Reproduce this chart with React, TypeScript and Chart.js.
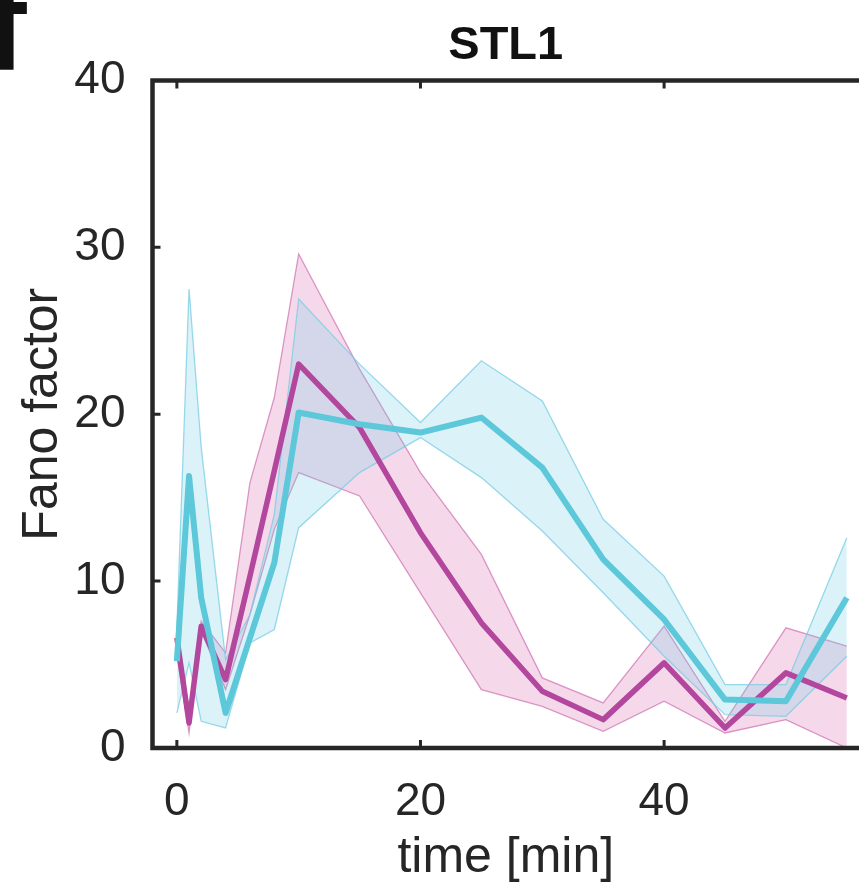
import React, { useEffect, useRef } from "react";
import { Chart, registerables } from "chart.js";

Chart.register(...registerables);

// ---- data ----
const timeMin = [0, 1, 2, 4, 6, 8, 10, 15, 20, 25, 30, 35, 40, 45, 50, 55];

const magentaMean = [6.6, 1.5, 7.3, 4.1, 10.3, 16.6, 23.0, 19.2, 12.9, 7.5, 3.4, 1.7, 5.1, 1.2, 4.5, 3.0];
const magentaUpper = [7.2, 2.2, 7.6, 5.7, 15.9, 21.0, 29.6, 22.7, 16.5, 11.6, 4.2, 2.7, 7.3, 1.6, 7.2, 6.1];
const magentaLower = [5.6, 0.9, 7.0, 3.5, 8.0, 13.1, 16.5, 15.1, 9.3, 3.5, 2.5, 1.0, 2.8, 0.9, 1.7, 0.0];

const cyanMean = [5.2, 16.3, 9.0, 2.1, 6.6, 11.1, 20.1, 19.4, 18.9, 19.8, 16.8, 11.3, 7.7, 2.9, 2.8, 9.0];
const cyanUpper = [7.2, 27.5, 18.0, 5.3, 8.0, 14.0, 26.9, 23.0, 19.5, 23.2, 20.8, 13.7, 10.3, 3.8, 3.8, 12.6];
const cyanLower = [2.1, 5.1, 1.6, 1.2, 6.3, 7.1, 13.2, 16.5, 18.6, 16.2, 13.0, 9.3, 5.5, 2.0, 1.9, 5.5];

const xTicks = [0, 20, 40];
const yTicks = [0, 10, 20, 30, 40];

const titleText = "STL1";
const xTitle = "time [min]";
const yTitle = "Fano factor";
const panelLetter = "f";

const FONT = '"Liberation Sans", Arial, Helvetica, sans-serif';
const INK = "#262626";

const pts = (ys: number[]) => timeMin.map((t, i) => ({ x: t, y: ys[i] }));

const framePlugin = {
  id: "frame",
  afterDatasetsDraw(chart: any) {
    const { ctx, chartArea } = chart;
    const { left, right, top, bottom } = chartArea;
    const xs = chart.scales.x;
    const ys = chart.scales.y;
    ctx.save();
    ctx.strokeStyle = INK;
    ctx.lineWidth = 4.5;
    ctx.lineCap = "butt";
    ctx.beginPath();
    ctx.moveTo(right + 5, top);
    ctx.lineTo(left, top);
    ctx.lineTo(left, bottom);
    ctx.lineTo(right + 5, bottom);
    ctx.stroke();
    ctx.lineWidth = 3;
    const tl = 8;
    ctx.beginPath();
    for (const v of xTicks) {
      const px = xs.getPixelForValue(v);
      ctx.moveTo(px, bottom);
      ctx.lineTo(px, bottom - tl);
      ctx.moveTo(px, top);
      ctx.lineTo(px, top + tl);
    }
    for (const v of yTicks) {
      const py = ys.getPixelForValue(v);
      ctx.moveTo(left, py);
      ctx.lineTo(left + tl, py);
    }
    ctx.stroke();
    ctx.restore();
  },
  afterDraw(chart: any) {
    const { ctx } = chart;
    ctx.save();
    ctx.fillStyle = "#111";
    ctx.font = `bold 128px ${FONT}`;
    ctx.textBaseline = "alphabetic";
    ctx.fillText(panelLetter, -16, 70);
    ctx.restore();
  },
};

export default function App() {
  const ref = useRef<HTMLCanvasElement | null>(null);

  useEffect(() => {
    if (!ref.current) return;
    const magLine = "#B2479D";
    const cyanLine = "#5CC8D9";
    const magFill = "rgba(212, 96, 168, 0.24)";
    const magEdge = "rgba(205, 110, 175, 0.7)";
    const cyanFill = "rgba(112, 202, 226, 0.25)";
    const cyanEdge = "rgba(120, 205, 228, 0.75)";

    const chart = new Chart(ref.current, {
      type: "line",
      data: {
        datasets: [
          {
            label: "cyan",
            data: pts(cyanMean),
            borderColor: cyanLine,
            borderWidth: 6,
            pointRadius: 0,
            fill: false,
            borderJoinStyle: "round",
            tension: 0,
          },
          {
            label: "magenta",
            data: pts(magentaMean),
            borderColor: magLine,
            borderWidth: 5.5,
            pointRadius: 0,
            fill: false,
            borderJoinStyle: "round",
            tension: 0,
          },
          {
            label: "cyanUpper",
            data: pts(cyanUpper),
            borderColor: cyanEdge,
            borderWidth: 1.3,
            pointRadius: 0,
            backgroundColor: cyanFill,
            fill: "+1",
            tension: 0,
          },
          {
            label: "cyanLower",
            data: pts(cyanLower),
            borderColor: cyanEdge,
            borderWidth: 1.3,
            pointRadius: 0,
            fill: false,
            tension: 0,
          },
          {
            label: "magUpper",
            data: pts(magentaUpper),
            borderColor: magEdge,
            borderWidth: 1.3,
            pointRadius: 0,
            backgroundColor: magFill,
            fill: "+1",
            tension: 0,
          },
          {
            label: "magLower",
            data: pts(magentaLower),
            borderColor: magEdge,
            borderWidth: 1.3,
            pointRadius: 0,
            fill: false,
            tension: 0,
          },
        ],
      },
      options: {
        animation: false,
        responsive: false,
        maintainAspectRatio: false,
        layout: { padding: 0 },
        plugins: {
          legend: { display: false },
          tooltip: { enabled: false },
          title: {
            display: true,
            text: titleText,
            fullSize: false,
            color: "#111",
            font: { family: FONT, size: 47, weight: "bold" },
            padding: { top: 18, bottom: 6 },
          },
        },
        scales: {
          x: {
            type: "linear",
            min: -2,
            max: 56,
            afterBuildTicks: (s: any) => {
              s.ticks = xTicks.map((v) => ({ value: v }));
            },
            afterFit: (s: any) => {
              s.height = 141;
            },
            ticks: {
              color: INK,
              font: { family: FONT, size: 46 },
              padding: 19,
              maxRotation: 0,
              autoSkip: false,
            },
            grid: { display: false },
            border: { display: false },
            title: {
              display: true,
              text: xTitle,
              color: INK,
              font: { family: FONT, size: 50 },
              padding: { top: 0, bottom: 1 },
            },
          },
          y: {
            type: "linear",
            min: 0,
            max: 40,
            afterBuildTicks: (s: any) => {
              s.ticks = yTicks.map((v) => ({ value: v }));
            },
            afterFit: (s: any) => {
              s.width = 152.5;
            },
            ticks: {
              color: INK,
              font: { family: FONT, size: 46 },
              padding: 19,
            },
            grid: { display: false },
            border: { display: false },
            title: {
              display: true,
              text: yTitle,
              color: INK,
              font: { family: FONT, size: 50 },
              padding: { top: 13, bottom: 0 },
            },
          },
        },
      },
      plugins: [framePlugin],
    } as any);

    return () => chart.destroy();
  }, []);

  return (
    <div style={{ position: "absolute", left: 0, top: 0, width: 859, height: 889, background: "#fff" }}>
      <canvas ref={ref} width={859} height={889} style={{ display: "block" }} />
    </div>
  );
}
